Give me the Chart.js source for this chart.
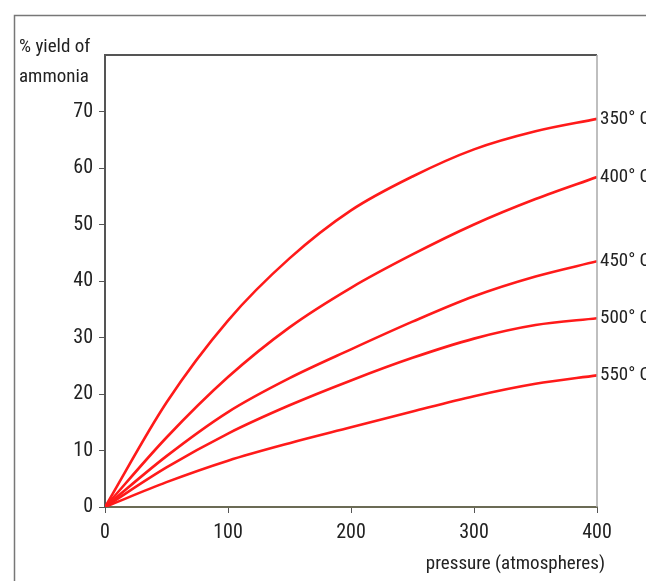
<!DOCTYPE html>
<html lang="en">
  <head>
    <meta charset="UTF-8" />
    <title>Ammonia yield</title>
    <script src="https://cdn.jsdelivr.net/npm/chart.js"></script>
    <style>
      html, body { margin: 0; padding: 0; background: #fff; }
      .chart-box { width: 646px; height: 581px; }
    </style>
  </head>
  <body>
    <div class="chart-box">
      <canvas id="yieldChart" width="646" height="581"></canvas>
    </div>

    <script>
      // pressure in atmospheres
      const pressures = [0, 50, 100, 150, 200, 250, 300, 350, 400];
      const temps = ["350° C", "400° C", "450° C", "500° C", "550° C"];

      // % yield
      const yield350 = [0, 18.5, 33, 44, 52.5, 58.5, 63.3, 66.5, 68.7];
      const yield400 = [0, 12.3, 23, 31.8, 38.8, 44.7, 50, 54.5, 58.4];
      const yield450 = [0, 9, 16.8, 22.8, 27.9, 32.8, 37.3, 40.8, 43.5];
      const yield500 = [0, 7, 13, 18, 22.4, 26.4, 29.8, 32.2, 33.4];
      const yield550 = [0, 4.4, 8.2, 11.3, 14.1, 16.9, 19.6, 21.8, 23.3];

      const xTicks = [0, 100, 200, 300, 400];
      const yTicks = [0, 10, 20, 30, 40, 50, 60, 70];

      const FONT = '"Liberation Sans Narrow", "Arial Narrow", "Roboto Condensed", Roboto, Arial, sans-serif';
      const TEXT = "#222";

      const allYields = [yield350, yield400, yield450, yield500, yield550];

      const datasets = allYields.map((vals, i) => ({
        label: temps[i],
        data: vals.map((v, j) => ({ x: pressures[j], y: v })),
        borderColor: "#ff1a1a",
        borderWidth: 2.6,
        pointRadius: 0,
        cubicInterpolationMode: "monotone",
        fill: false,
      }));

      // frame, titles and curve labels
      const decorations = {
        id: "decorations",
        beforeDraw(chart) {
          const ctx = chart.ctx;
          ctx.save();
          ctx.fillStyle = "#fff";
          ctx.fillRect(0, 0, chart.width, chart.height);
          ctx.strokeStyle = "#777";
          ctx.lineWidth = 1.5;
          ctx.strokeRect(14.5, 15.5, 800, 800);
          ctx.restore();
        },
        afterDraw(chart) {
          const ctx = chart.ctx;
          const area = chart.chartArea;
          const xs = chart.scales.x;
          const ys = chart.scales.y;
          ctx.save();
          // top and right borders of the plot
          ctx.strokeStyle = "#555";
          ctx.lineWidth = 2;
          ctx.beginPath();
          ctx.moveTo(area.left, area.top);
          ctx.lineTo(area.right, area.top);
          ctx.stroke();
          ctx.strokeStyle = "#aaa";
          ctx.lineWidth = 1.5;
          ctx.beginPath();
          ctx.moveTo(area.right, area.top);
          ctx.lineTo(area.right, area.bottom);
          ctx.stroke();

          ctx.fillStyle = TEXT;
          ctx.font = "19px " + FONT;
          ctx.textAlign = "left";
          ctx.textBaseline = "middle";
          ctx.fillText("% yield of", 19, 47);
          ctx.fillText("ammonia", 19, 77);

          ctx.textAlign = "right";
          ctx.fillText("pressure (atmospheres)", 605, 564);

          ctx.textAlign = "left";
          chart.data.datasets.forEach((ds) => {
            const last = ds.data[ds.data.length - 1];
            ctx.fillText(ds.label, xs.getPixelForValue(last.x) + 3, ys.getPixelForValue(last.y));
          });
          ctx.restore();
        },
      };

      new Chart(document.getElementById("yieldChart"), {
        type: "line",
        data: { datasets },
        options: {
          responsive: false,
          animation: false,
          layout: { padding: { left: 0, top: 55, right: 49, bottom: 0 } },
          plugins: {
            legend: { display: false },
            tooltip: { enabled: false },
          },
          scales: {
            x: {
              type: "linear",
              min: 0,
              max: 400,
              afterBuildTicks: (s) => { s.ticks = xTicks.map((v) => ({ value: v })); },
              afterFit: (s) => { s.height = 74; },
              grid: { drawOnChartArea: false, drawTicks: true, tickLength: 6, color: "#555" },
              border: { display: true, color: "#6b6b55", width: 2 },
              ticks: { color: TEXT, padding: 8, font: { family: FONT, size: 20 }, maxRotation: 0 },
            },
            y: {
              min: 0,
              max: 80,
              afterBuildTicks: (s) => { s.ticks = yTicks.map((v) => ({ value: v })); },
              afterFit: (s) => { s.width = 105; },
              grid: { drawOnChartArea: false, drawTicks: true, tickLength: 6, color: "#555" },
              border: { display: true, color: "#555", width: 2 },
              ticks: { color: TEXT, padding: 6, font: { family: FONT, size: 20 } },
            },
          },
        },
        plugins: [decorations],
      });
    </script>
  </body>
</html>
